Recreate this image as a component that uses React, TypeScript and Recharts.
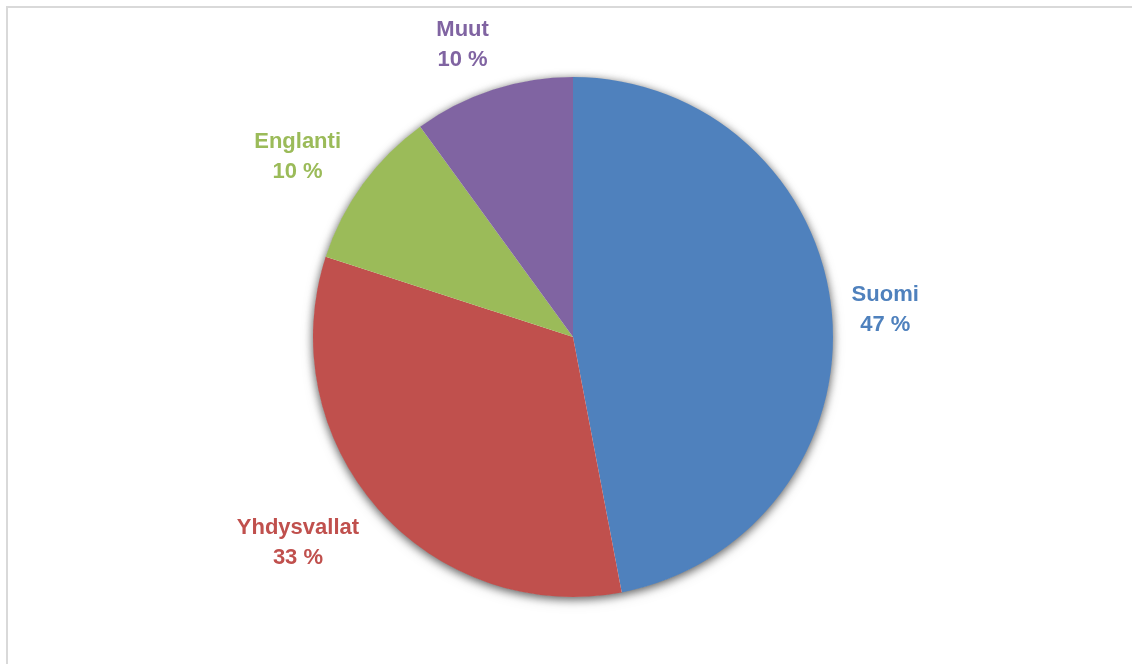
import React from 'react';
import { PieChart, Pie, Cell } from 'recharts';

const countries: string[] = ['Suomi', 'Yhdysvallat', 'Englanti', 'Muut'];
const shares: number[] = [47, 33, 10, 10];
const colors: string[] = ['#4F81BD', '#C0504D', '#9BBB59', '#8064A2'];

const data = countries.map((name, i) => ({ name, value: shares[i] }));

const RADIAN = Math.PI / 180;
const FONT_SIZE = 22;
const LINE_GAP = 30;

const renderLabel = (props: any) => {
    const { cx, cy, midAngle, outerRadius, name, value, index } = props;
    const cos = Math.cos(-midAngle * RADIAN);
    const sin = Math.sin(-midAngle * RADIAN);
    const r = outerRadius + 26;
    // push the text box outwards so its edge, not its centre, sits on the ring
    const halfW = name.length * FONT_SIZE * 0.25;
    const halfH = 23;
    const x = cx + r * cos + Math.sign(cos) * halfW;
    const y = cy + r * sin + sin * halfH;
    return (
        <text
            x={x}
            y={y}
            textAnchor="middle"
            fill={colors[index]}
            fontSize={FONT_SIZE}
            fontWeight="bold"
            fontFamily="'Liberation Sans', Arial, sans-serif"
        >
            <tspan x={x} dy={-7}>{name}</tspan>
            <tspan x={x} dy={LINE_GAP}>{`${value} %`}</tspan>
        </text>
    );
};

const App = () => {
    return (
        <div
            style={{
                position: 'absolute',
                left: 6,
                top: 6,
                width: 1124,
                height: 656,
                borderTop: '2px solid #d9d9d9',
                borderLeft: '2px solid #d9d9d9',
                background: '#fff',
            }}
        >
            <style>{'.pie-shadow { filter: drop-shadow(0px 2px 5px rgba(0,0,0,0.4)); }'}</style>
            <PieChart width={1124} height={656} margin={{ top: 0, right: 0, bottom: 0, left: 0 }}>
                {/* plain disc underneath, only there to cast the soft shadow */}
                <Pie
                    className="pie-shadow"
                    data={data}
                    dataKey="value"
                    cx={565}
                    cy={329}
                    outerRadius={259}
                    startAngle={90}
                    endAngle={-270}
                    fill="#ffffff"
                    stroke="#ffffff"
                    strokeWidth={1}
                    label={false}
                    labelLine={false}
                    isAnimationActive={false}
                />
                <Pie
                    data={data}
                    dataKey="value"
                    nameKey="name"
                    cx={565}
                    cy={329}
                    outerRadius={260}
                    startAngle={90}
                    endAngle={-270}
                    stroke="none"
                    label={renderLabel}
                    labelLine={false}
                    isAnimationActive={false}
                >
                    {data.map((entry, i) => (
                        <Cell key={entry.name} fill={colors[i]} />
                    ))}
                </Pie>
            </PieChart>
        </div>
    );
};

export default App;
